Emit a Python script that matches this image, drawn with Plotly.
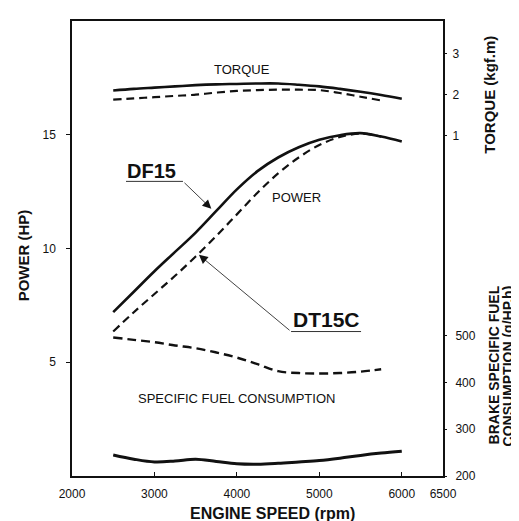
import plotly.graph_objects as go

# ---------------- data ----------------
rpm_df15 = [2500, 2750, 3000, 3250, 3500, 3750, 4000, 4250, 4500, 4750, 5000, 5250, 5500, 5750, 6000]
rpm_dt15c = [2500, 2750, 3000, 3250, 3500, 3750, 4000, 4250, 4500, 4750, 5000, 5250, 5500, 5750]

power_df15 = [7.2, 8.1, 9.0, 9.85, 10.7, 11.65, 12.6, 13.4, 14.0, 14.45, 14.78, 14.98, 15.07, 14.92, 14.7]
power_dt15c = [6.35, 7.2, 8.0, 8.8, 9.65, 10.55, 11.5, 12.45, 13.3, 14.0, 14.55, 14.9, 15.05, 14.92]

torque_df15 = [2.10, 2.14, 2.17, 2.20, 2.23, 2.25, 2.26, 2.27, 2.27, 2.24, 2.20, 2.14, 2.07, 1.99, 1.90]
torque_dt15c = [1.88, 1.91, 1.94, 1.97, 2.00, 2.05, 2.09, 2.11, 2.12, 2.12, 2.11, 2.04, 1.95, 1.86]

bsfc_df15 = [245, 236, 230, 232, 236, 231, 226, 225, 227, 230, 233, 238, 244, 249, 253]
bsfc_dt15c = [496, 491, 486, 479, 473, 464, 453, 439, 424, 420, 419, 420, 423, 428]

x_ticks = [2000, 3000, 4000, 5000, 6000, 6500]
power_ticks = [5, 10, 15]
torque_ticks = [1, 2, 3]
bsfc_ticks = [200, 300, 400, 500]

FONT = "Liberation Sans, Arial, Helvetica, sans-serif"
BLACK = "#111111"

fig = go.Figure()

solid = dict(color=BLACK, width=2.6, shape="spline", smoothing=1.0)
dashed = dict(color=BLACK, width=2.2, dash="8px,5px", shape="spline", smoothing=1.0)

# torque
fig.add_trace(go.Scatter(x=rpm_df15, y=torque_df15, mode="lines", line=solid, yaxis="y2", name="DF15 torque"))
fig.add_trace(go.Scatter(x=rpm_dt15c, y=torque_dt15c, mode="lines", line=dashed, yaxis="y2", name="DT15C torque"))
# power
fig.add_trace(go.Scatter(x=rpm_df15, y=power_df15, mode="lines", line=solid, yaxis="y", name="DF15 power"))
fig.add_trace(go.Scatter(x=rpm_dt15c, y=power_dt15c, mode="lines", line=dashed, yaxis="y", name="DT15C power"))
# bsfc
fig.add_trace(go.Scatter(x=rpm_df15, y=bsfc_df15, mode="lines",
                         line=dict(color=BLACK, width=3, shape="spline", smoothing=1.0), yaxis="y3", name="DF15 bsfc"))
fig.add_trace(go.Scatter(x=rpm_dt15c, y=bsfc_dt15c, mode="lines",
                         line=dict(color=BLACK, width=2.4, dash="9px,5px", shape="spline", smoothing=1.0),
                         yaxis="y3", name="DT15C bsfc"))

tickfont = dict(family=FONT, size=12, color=BLACK)

fig.update_layout(
    width=519, height=521,
    margin=dict(l=64, r=84, t=11, b=53),
    paper_bgcolor="white", plot_bgcolor="white",
    showlegend=False,
    font=dict(family=FONT, color=BLACK),
    xaxis=dict(range=[2000, 6500], tickvals=x_ticks, ticktext=[str(v) for v in x_ticks],
               ticks="inside", ticklen=4, tickcolor=BLACK, tickwidth=1,
               showline=True, linecolor=BLACK, linewidth=1.5, mirror=True,
               showgrid=False, zeroline=False, tickfont=tickfont, ticklabelstandoff=6),
    yaxis=dict(range=[0, 20], tickvals=power_ticks, ticks="outside", ticklen=4, tickcolor=BLACK,
               showline=True, linecolor=BLACK, linewidth=1.5, mirror=True,
               showgrid=False, zeroline=False, tickfont=tickfont, ticklabelstandoff=8),
    yaxis2=dict(range=[-7.229, 3.783], tickvals=torque_ticks, overlaying="y", side="right", anchor="x",
                ticks="outside", ticklen=3, tickcolor=BLACK, showline=False,
                showgrid=False, zeroline=False, tickfont=tickfont, ticklabelstandoff=3),
    yaxis3=dict(range=[200, 1172.3], tickvals=bsfc_ticks, overlaying="y", side="right", anchor="x",
                ticks="outside", ticklen=3, tickcolor=BLACK, showline=False,
                showgrid=False, zeroline=False, tickfont=tickfont, ticklabelstandoff=6),
)

title_font = dict(family=FONT, size=15, color=BLACK)
side_font = dict(family=FONT, size=14, color=BLACK)
anns = [
    dict(text="<b>POWER (HP)</b>", xref="paper", yref="paper", x=-0.132, y=0.485, textangle=-90,
         showarrow=False, font=title_font, xanchor="center", yanchor="middle"),
    dict(text="<b>TORQUE (kgf.m)</b>", xref="paper", yref="paper", x=1.1267, y=0.838, textangle=-90,
         showarrow=False, font=title_font, xanchor="center", yanchor="middle"),
    dict(text="<b>BRAKE SPECIFIC FUEL</b>", xref="paper", yref="paper", x=1.1375, y=0.243, textangle=-90,
         showarrow=False, font=side_font, xanchor="center", yanchor="middle"),
    dict(text="<b>CONSUMPTION (g/HP.h)</b>", xref="paper", yref="paper", x=1.1752, y=0.243, textangle=-90,
         showarrow=False, font=side_font, xanchor="center", yanchor="middle"),
    dict(text="<b>ENGINE SPEED (rpm)</b>", xref="paper", yref="paper", x=0.54, y=-0.082,
         showarrow=False, font=dict(family=FONT, size=16, color=BLACK), xanchor="center", yanchor="middle"),
    # in-plot labels
    dict(text="TORQUE", xref="x", yref="y2", x=4060, y=2.60, showarrow=False,
         font=dict(family=FONT, size=13, color=BLACK)),
    dict(text="POWER", xref="x", yref="y", x=4720, y=12.25, showarrow=False,
         font=dict(family=FONT, size=13, color=BLACK)),
    dict(text="SPECIFIC FUEL CONSUMPTION", xref="x", yref="y", x=3990, y=3.41, showarrow=False,
         font=dict(family=FONT, size=13, color=BLACK)),
    dict(text="<b>DF15</b>", xref="x", yref="y", x=2960, y=13.4, showarrow=False,
         font=dict(family=FONT, size=20, color=BLACK)),
    dict(text="<b>DT15C</b>", xref="x", yref="y", x=5090, y=6.9, showarrow=False,
         font=dict(family=FONT, size=21, color=BLACK)),
    # leader arrows
    dict(text="", xref="x", yref="y", x=3690, y=11.75, ax=3346, ay=12.95, axref="x", ayref="y",
         showarrow=True, arrowhead=2, arrowsize=2.2, arrowwidth=0.8, arrowcolor=BLACK, standoff=0),
    dict(text="", xref="x", yref="y", x=3540, y=9.72, ax=4657, ay=6.35, axref="x", ayref="y",
         showarrow=True, arrowhead=2, arrowsize=2.2, arrowwidth=0.8, arrowcolor=BLACK, standoff=0),
]
fig.update_layout(annotations=anns)

fig.add_shape(type="line", xref="x", yref="y", x0=2655, x1=3346, y0=12.95, y1=12.95,
              line=dict(color="#333333", width=1))
fig.add_shape(type="line", xref="x", yref="y", x0=4657, x1=5506, y0=6.35, y1=6.35,
              line=dict(color="#333333", width=1))

fig.write_html("out.html")
